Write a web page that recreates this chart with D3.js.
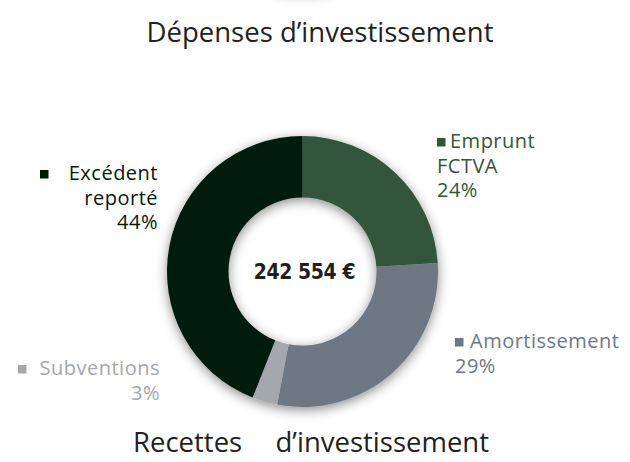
<!DOCTYPE html>
<html>
<head>
<meta charset="utf-8">
<script src="https://cdn.jsdelivr.net/npm/d3@7"></script>
<style>
	body { margin: 0; background: #fff; }
	svg { display: block; }
	.title { font-family: 'Open Sans', sans-serif; font-size: 27.5px; fill: #231f20; }
	.label { font-family: 'Open Sans', sans-serif; font-size: 20px; letter-spacing: 0.5px; }
	.total { font-family: 'DejaVu Sans Condensed', 'DejaVu Sans', sans-serif; font-weight: bold; font-size: 21px; letter-spacing: -0.4px; fill: #231f20; }
</style>
</head>
<body>
<svg id="chart" width="630" height="462"></svg>
<script>
const categories = ['Emprunt FCTVA', 'Amortissement', 'Subventions', 'Excédent reporté'];
const shares = [24, 29, 3, 44];
const colors = ['#33553b', '#6e7882', '#a4a7ab', '#011a08'];
const totalLabel = '242 554 €';
const titles = ['Dépenses d’investissement', 'Recettes  d’investissement'];

const cx = 302.5;
const cy = 271.5;
const outerR = 135.5;
const innerR = 74;

const svg = d3.select('#chart');
const defs = svg.append('defs');

const shadow = defs.append('filter')
	.attr('id', 'shadow')
	.attr('x', '-30%').attr('y', '-30%')
	.attr('width', '160%').attr('height', '160%');
shadow.append('feDropShadow')
	.attr('dx', 0)
	.attr('dy', 3)
	.attr('stdDeviation', 6)
	.attr('flood-color', '#000')
	.attr('flood-opacity', 0.45);

// bit of the donut above the crop (only its shadow shows)
svg.append('circle')
	.attr('cx', 303)
	.attr('cy', -142)
	.attr('r', 133)
	.attr('fill', '#fff')
	.attr('filter', 'url(#shadow)');

svg.append('text')
	.attr('class', 'title')
	.attr('x', 320)
	.attr('y', 42)
	.attr('text-anchor', 'middle')
	.text(titles[0]);

const pie = d3.pie().sort(null).value((d) => d)(shares);
const arc = d3.arc().innerRadius(innerR).outerRadius(outerR);

const ring = svg.append('g')
	.attr('transform', `translate(${cx},${cy})`)
	.attr('filter', 'url(#shadow)');
ring.selectAll('path').data(pie).enter().append('path')
	.attr('d', arc)
	.attr('fill', (d, i) => colors[i]);

svg.append('text')
	.attr('class', 'total')
	.attr('x', cx + 2)
	.attr('y', 279)
	.attr('text-anchor', 'middle')
	.text(totalLabel);

// one entry per slice: text lines, anchor, x, first baseline, square x, first-line x
const labelSpecs = [
	{ lines: ['Emprunt', 'FCTVA', '24%'], anchor: 'start', x: 437, y: 148, sq: 437, first: 450 },
	{ lines: ['Amortissement', '29%'], anchor: 'start', x: 455, y: 348, sq: 455, first: 470 },
	{ lines: ['Subventions', '3%'], anchor: 'end', x: 160, y: 375, sq: 18, first: 160 },
	{ lines: ['Excédent', 'reporté', '44%'], anchor: 'end', x: 158, y: 180, sq: 40, first: 158 },
];
const lineH = 24.5;

labelSpecs.forEach((spec, i) => {
	const g = svg.append('g').attr('fill', colors[i]);
	g.append('rect')
		.attr('x', spec.sq)
		.attr('y', spec.y - 10)
		.attr('width', 8.5)
		.attr('height', 8.5);
	spec.lines.forEach((line, j) => {
		g.append('text')
			.attr('class', 'label')
			.attr('x', j === 0 ? spec.first : spec.x)
			.attr('y', spec.y + j * lineH)
			.attr('text-anchor', spec.anchor)
			.text(line);
	});
});

// bottom title has a wide gap between its two words
const [word1, word2] = titles[1].split('  ');
svg.append('text')
	.attr('class', 'title')
	.attr('x', 133)
	.attr('y', 452)
	.text(word1);
svg.append('text')
	.attr('class', 'title')
	.attr('x', 489)
	.attr('y', 452)
	.attr('text-anchor', 'end')
	.text(word2);
</script>
</body>
</html>
